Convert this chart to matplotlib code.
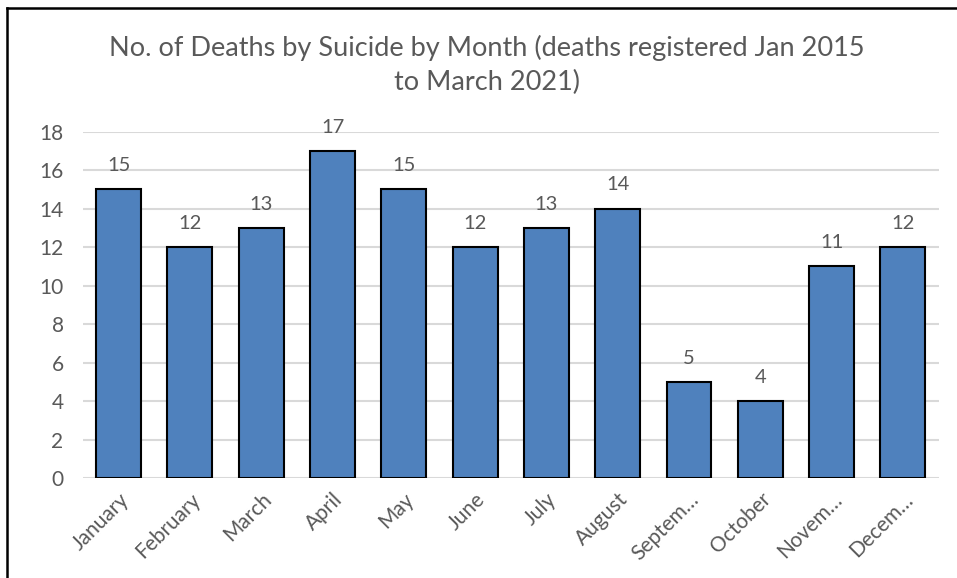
import numpy as np
import matplotlib.pyplot as plt
from matplotlib.lines import Line2D

# data
months = ['January', 'February', 'March', 'April', 'May', 'June', 'July',
          'August', 'Septem\u2026', 'October', 'Novem\u2026', 'Decem\u2026']
deaths = [15, 12, 13, 17, 15, 12, 13, 14, 5, 4, 11, 12]
yticks = [0, 2, 4, 6, 8, 10, 12, 14, 16, 18]

grey = '#595959'
plt.rcParams['font.family'] = ['Lato', 'DejaVu Sans']

fig = plt.figure(figsize=(9.57, 5.78), dpi=100)
ax = fig.add_axes([0.0867, 0.173, 0.894, 0.599])

x = np.arange(len(months))
bars = ax.bar(x, deaths, width=0.63, color='#4F81BD', edgecolor='black',
              linewidth=1.5, zorder=3)
for xi, v in zip(x, deaths):
    ax.annotate(str(v), (xi, v), xytext=(0, 11), textcoords='offset points',
                ha='center', va='bottom', fontsize=14.5, color=grey)

ax.set_xlim(-0.5, len(months) - 0.5)
ax.set_ylim(0, 18)
ax.set_yticks(yticks)
ax.set_xticks(x)
ax.set_xticklabels(months, rotation=45, ha='right', rotation_mode='anchor')
ax.tick_params(axis='both', length=0, labelsize=15, labelcolor=grey)
ax.tick_params(axis='y', pad=14)
ax.tick_params(axis='x', pad=8)
ax.grid(axis='y', color='#D9D9D9', linewidth=1.5, zorder=0)
for s in ax.spines.values():
    s.set_visible(False)

fig.text(0.509, 0.8875, 'No. of Deaths by Suicide by Month (deaths registered Jan 2015\nto March 2021)',
         ha='center', va='center', fontsize=19.5, color=grey, linespacing=1.45)

# outer frame (left and top only visible)
fig.add_artist(Line2D([7 / 957, 7 / 957], [0, 1 - 8 / 578], color='black', lw=1.8))
fig.add_artist(Line2D([7 / 957, 1], [1 - 8 / 578, 1 - 8 / 578], color='black', lw=1.8))

fig.savefig('out.png', dpi=100)
